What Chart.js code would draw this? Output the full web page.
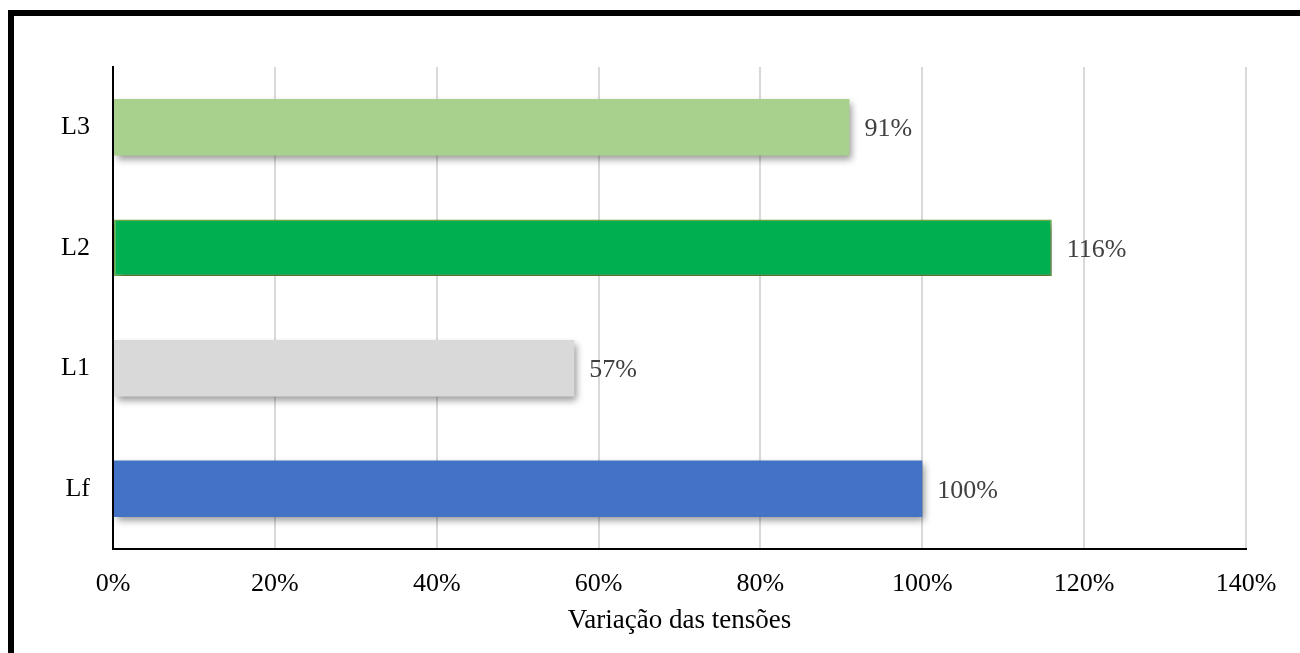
<!DOCTYPE html>
<html>
<head>
<meta charset="utf-8">
<script src="https://cdn.jsdelivr.net/npm/chart.js@4"></script>
<style>
  html, body { margin: 0; padding: 0; background: #fff; overflow: hidden; }
  #moldura {
    position: absolute; left: 8px; top: 10px; width: 1400px; height: 800px;
    border-top: 6px solid #000; border-left: 6px solid #000;
  }
  #grafico { position: absolute; left: 0; top: 0; width: 1300px; height: 653px; }
</style>
</head>
<body>
<div id="moldura"></div>
<div id="grafico"><canvas id="ctx" width="1300" height="653"></canvas></div>
<script>
// casos analisados, de baixo para cima
const casos = ['Lf', 'L1', 'L2', 'L3']
// variação da tensão em cada caso (%)
const variacoes = [100, 57, 116, 91]
const cores = ['#4472C4', '#D9D9D9', '#00B050', '#A9D18E']
const bordas = ['#4472C4', '#D9D9D9', '#70AD47', '#A9D18E']
// marcas do eixo x (%)
const marcasX = [0, 20, 40, 60, 80, 100, 120, 140]

const fonte = '"Liberation Serif", "Times New Roman", serif'

// sombra atrás das barras
const sombra = {
  id: 'sombra',
  beforeDatasetDraw: (chart) => {
    const c = chart.ctx
    c.save()
    c.shadowColor = 'rgba(0,0,0,0.4)'
    c.shadowBlur = 7
    c.shadowOffsetX = 3
    c.shadowOffsetY = 4
  },
  afterDatasetDraw: (chart) => {
    chart.ctx.restore()
  }
}

// rótulo de valor à direita de cada barra
const rotulos = {
  id: 'rotulos',
  afterDatasetsDraw: (chart) => {
    const c = chart.ctx
    const meta = chart.getDatasetMeta(0)
    c.save()
    c.font = '26px ' + fonte
    c.fillStyle = '#404040'
    c.textAlign = 'left'
    c.textBaseline = 'middle'
    meta.data.forEach((barra, i) => {
      c.fillText(variacoes[i] + '%', barra.x + 15, barra.y + 2)
    })
    c.restore()
  }
}

const grafico = new Chart(document.getElementById('ctx'), {
  type: 'bar',
  data: {
    labels: casos,
    datasets: [{
      data: variacoes,
      backgroundColor: cores,
      borderColor: bordas,
      borderWidth: [0, 0, 1.5, 0],
      borderSkipped: false,
      categoryPercentage: 1,
      barPercentage: 0.47
    }]
  },
  options: {
    indexAxis: 'y',
    responsive: false,
    animation: false,
    events: [],
    layout: { padding: { top: 67, right: 54, left: 0, bottom: 0 } },
    plugins: {
      legend: { display: false },
      tooltip: { enabled: false }
    },
    scales: {
      x: {
        min: 0,
        max: 140,
        afterBuildTicks: (eixo) => { eixo.ticks = marcasX.map(v => ({ value: v })) },
        afterFit: (eixo) => { eixo.height = 104 },
        grid: { color: '#D9D9D9', lineWidth: 2, drawTicks: false },
        border: { color: '#000', width: 2 },
        ticks: {
          color: '#000',
          font: { family: fonte, size: 26 },
          padding: 20,
          callback: (v) => v + '%'
        },
        title: {
          display: true,
          text: 'Variação das tensões',
          color: '#000',
          font: { family: fonte, size: 27 },
          padding: 16
        }
      },
      y: {
        reverse: true,
        afterFit: (eixo) => { eixo.width = 113 },
        grid: { color: 'rgba(0,0,0,0)', drawTicks: false },
        border: { color: '#000', width: 2 },
        ticks: {
          color: '#000',
          font: { family: fonte, size: 26 },
          padding: 23
        }
      }
    }
  },
  plugins: [sombra, rotulos]
})
</script>
</body>
</html>
